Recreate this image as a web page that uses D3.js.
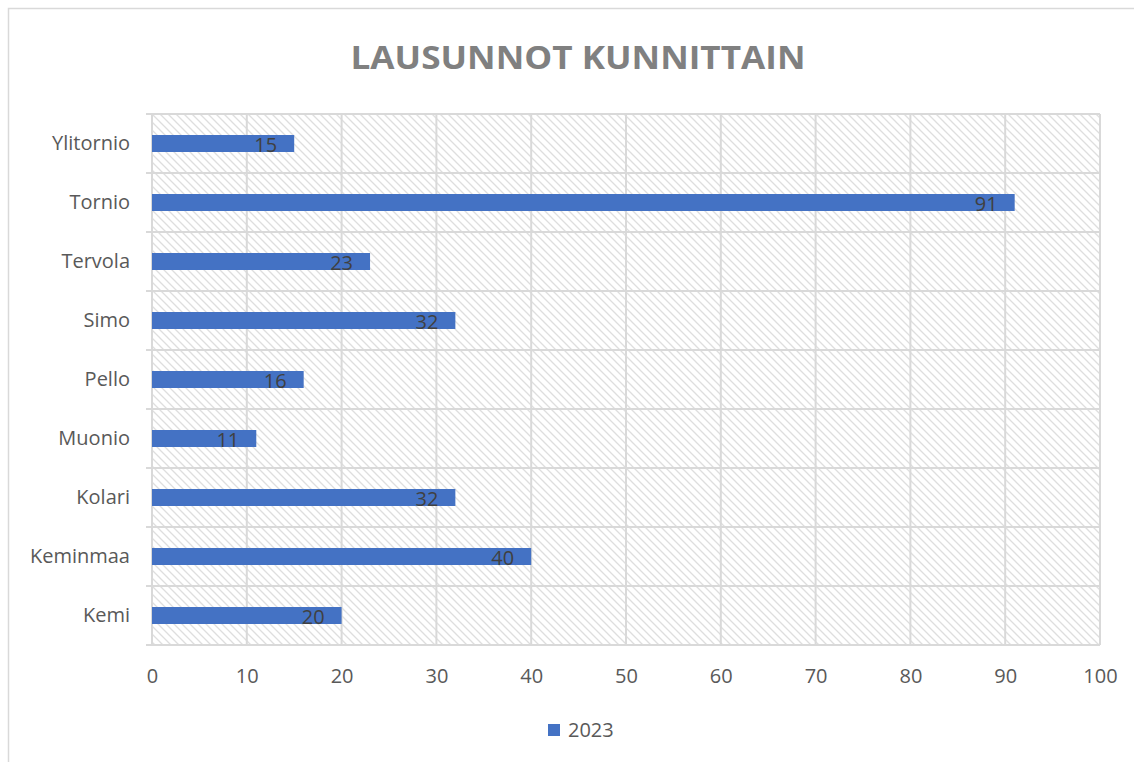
<!DOCTYPE html>
<html>
<head>
<meta charset="utf-8">
<script src="https://cdn.jsdelivr.net/npm/d3@7"></script>
<style>
  body { margin: 0; background: #fff; }
  svg { display: block; }
</style>
</head>
<body>
<div id="chart"></div>
<script>
// chart data
var categories = ["Kemi", "Keminmaa", "Kolari", "Muonio", "Pello", "Simo", "Tervola", "Tornio", "Ylitornio"];
var values2023 = [20, 40, 32, 11, 16, 32, 23, 91, 15];
var seriesName = "2023";
var xTicks = [0, 10, 20, 30, 40, 50, 60, 70, 80, 90, 100];
var title = "LAUSUNNOT KUNNITTAIN";

var W = 1134, H = 762;
var margin = {left: 152, right: 34, top: 114, bottom: 117};
var width = W - margin.left - margin.right,
    height = H - margin.top - margin.bottom;
var font = "'Open Sans', sans-serif";

var svg = d3.select("#chart").append("svg")
    .attr("width", W)
    .attr("height", H);

// hatch pattern for plot background
var defs = svg.append("defs");
var pat = defs.append("pattern")
    .attr("id", "hatch")
    .attr("patternUnits", "userSpaceOnUse")
    .attr("width", 8).attr("height", 8);
pat.append("rect").attr("width", 8).attr("height", 8).attr("fill", "#fff");
pat.append("path")
    .attr("d", "M-1,-1 L9,9 M-1,7 L1,9 M7,-1 L9,1")
    .attr("stroke", "#dedede")
    .attr("stroke-width", 1.3);

// outer chart border
svg.append("rect")
    .attr("x", 8.5).attr("y", 8.5)
    .attr("width", W).attr("height", H)
    .attr("fill", "none")
    .attr("stroke", "#d9d9d9")
    .attr("stroke-width", 1.5);

// title
svg.append("text")
    .attr("x", 578).attr("y", 69)
    .attr("text-anchor", "middle")
    .attr("font-family", font)
    .attr("font-weight", "bold")
    .attr("font-size", 33)
    .attr("fill", "#808080")
    .attr("textLength", 455)
    .attr("lengthAdjust", "spacingAndGlyphs")
    .text(title);

var g = svg.append("g")
    .attr("transform", "translate(" + margin.left + "," + margin.top + ")");

var x = d3.scaleLinear()
    .domain([0, 100])
    .range([0, width]);

var y = d3.scaleBand()
    .domain(categories.slice().reverse())
    .range([0, height]);

g.append("rect")
    .attr("width", width).attr("height", height)
    .attr("fill", "url(#hatch)");

// gridlines
g.selectAll(".vgrid")
    .data(xTicks)
    .enter().append("line")
    .attr("x1", d => x(d)).attr("x2", d => x(d))
    .attr("y1", 0).attr("y2", height)
    .attr("stroke", "#d9d9d9").attr("stroke-width", 2);

var hLines = categories.map((c, i) => i).concat([categories.length]);
g.selectAll(".hgrid")
    .data(hLines)
    .enter().append("line")
    .attr("x1", -6).attr("x2", width)
    .attr("y1", d => d * y.step()).attr("y2", d => d * y.step())
    .attr("stroke", "#d9d9d9").attr("stroke-width", 2);

// bars
var barH = 17;
var data = categories.map((c, i) => ({name: c, value: values2023[i]}));

g.selectAll(".bar")
    .data(data)
    .enter().append("rect")
    .attr("class", "bar")
    .attr("x", x(0))
    .attr("y", d => y(d.name) + y.bandwidth() / 2 - barH / 2)
    .attr("width", d => x(d.value) - x(0))
    .attr("height", barH)
    .attr("fill", "#4472c4");

// value labels
g.selectAll(".lbl")
    .data(data)
    .enter().append("text")
    .attr("x", d => x(d.value) - 17)
    .attr("y", d => y(d.name) + y.bandwidth() / 2 + 1)
    .attr("dy", "0.36em")
    .attr("text-anchor", "end")
    .attr("font-family", font)
    .attr("font-size", 20)
    .attr("fill", "#404040")
    .text(d => d.value);

// y axis labels
var yAxis = g.append("g")
    .call(d3.axisLeft(y).tickSize(0).tickPadding(22));
yAxis.select(".domain").remove();
yAxis.selectAll("text")
    .attr("font-family", font)
    .attr("font-size", 20)
    .attr("fill", "#595959");

// x axis
var xAxis = g.append("g")
    .attr("transform", "translate(0," + height + ")")
    .call(d3.axisBottom(x).tickValues(xTicks).tickSize(0).tickPadding(24));
xAxis.select(".domain").remove();
xAxis.selectAll("text")
    .attr("font-family", font)
    .attr("font-size", 20)
    .attr("fill", "#595959");

// legend
var leg = svg.append("g").attr("transform", "translate(548,724)");
leg.append("rect")
    .attr("width", 12).attr("height", 12)
    .attr("fill", "#4472c4");
leg.append("text")
    .attr("x", 20).attr("y", 6)
    .attr("dy", "0.36em")
    .attr("font-family", font)
    .attr("font-size", 20)
    .attr("fill", "#595959")
    .text(seriesName);
</script>
</body>
</html>
